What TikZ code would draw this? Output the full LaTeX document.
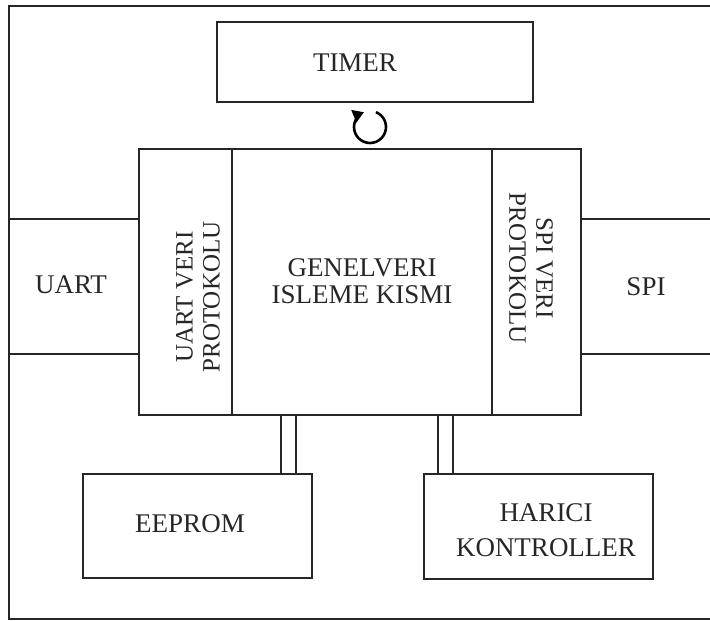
\documentclass[tikz,border=0pt]{standalone}
\usepackage{fontspec}
\setmainfont{Liberation Serif}
\usetikzlibrary{arrows.meta}
\begin{document}
\begin{tikzpicture}[x=1pt,y=-1pt,
  line width=1.3pt,
  wire/.style={draw=black!85, line width=1.3pt},
  block/.style={draw=black!85, line width=1.3pt, rectangle, inner sep=0pt, outer sep=0pt},
  lbl/.style={font=\fontsize{27}{27}\selectfont, text=black!85, align=center, inner sep=0pt},
  vlbl/.style={lbl, font=\fontsize{25}{27}\selectfont}]
  \useasboundingbox (0,0) rectangle (710,621);
  % outer frame, open on the right
  \draw[wire] (714,6) -- (9,6) -- (9,619) -- (714,619);

  % timer
  \node[block, minimum width=316pt, minimum height=80pt] (timer) at (375,62) {};
  \node[lbl] (timertxt) at (355,63) {TIMER};

  % central processing block with its two protocol columns
  \node[block, minimum width=93pt, minimum height=266pt] (uartp) at (185.5,282) {};
  \node[block, minimum width=260pt, minimum height=266pt] (core) at (362,282) {};
  \node[block, minimum width=89pt, minimum height=266pt] (spip) at (536.5,282) {};
  \node[lbl] (coretxt) at (362,281) {GENELVERI\\ISLEME KISMI};
  \node[vlbl, rotate=90] (uartptxt) at (198,297) {UART VERI\\PROTOKOLU};
  \node[vlbl, rotate=-90] (spiptxt) at (531,268) {SPI VERI\\PROTOKOLU};

  % external ports
  \node[block, minimum width=130pt, minimum height=135pt] (uart) at (74,286.5) {};
  \node[lbl] (uarttxt) at (71,285) {UART};
  \node[block, minimum width=136pt, minimum height=135pt] (spi) at (649,286.5) {};
  \node[lbl] (spitxt) at (646,287) {SPI};

  % memory and external controller
  \node[block, minimum width=229pt, minimum height=104pt] (eeprom) at (197.5,526) {};
  \node[lbl] (eepromtxt) at (190,524) {EEPROM};
  \node[block, minimum width=229pt, minimum height=105pt] (harici) at (538.5,526.5) {};
  \node[lbl, font=\fontsize{27}{35}\selectfont] (haricitxt) at (546,530) {HARICI\\KONTROLLER};

  % double-line buses
  \foreach \bx in {281,296} \draw[wire] (core.south -| \bx,0) -- (eeprom.north -| \bx,0);
  \foreach \bx in {438,453} \draw[wire] (core.south -| \bx,0) -- (harici.north -| \bx,0);

  % clockwise refresh mark under the timer
  \coordinate (loop) at (370,127);
  \draw[draw=black, line width=2.6pt, -{Triangle[length=11pt,width=13pt]}]
    ([shift={(-68:16)}]loop) arc (-68:248:16);
\end{tikzpicture}
\end{document}
